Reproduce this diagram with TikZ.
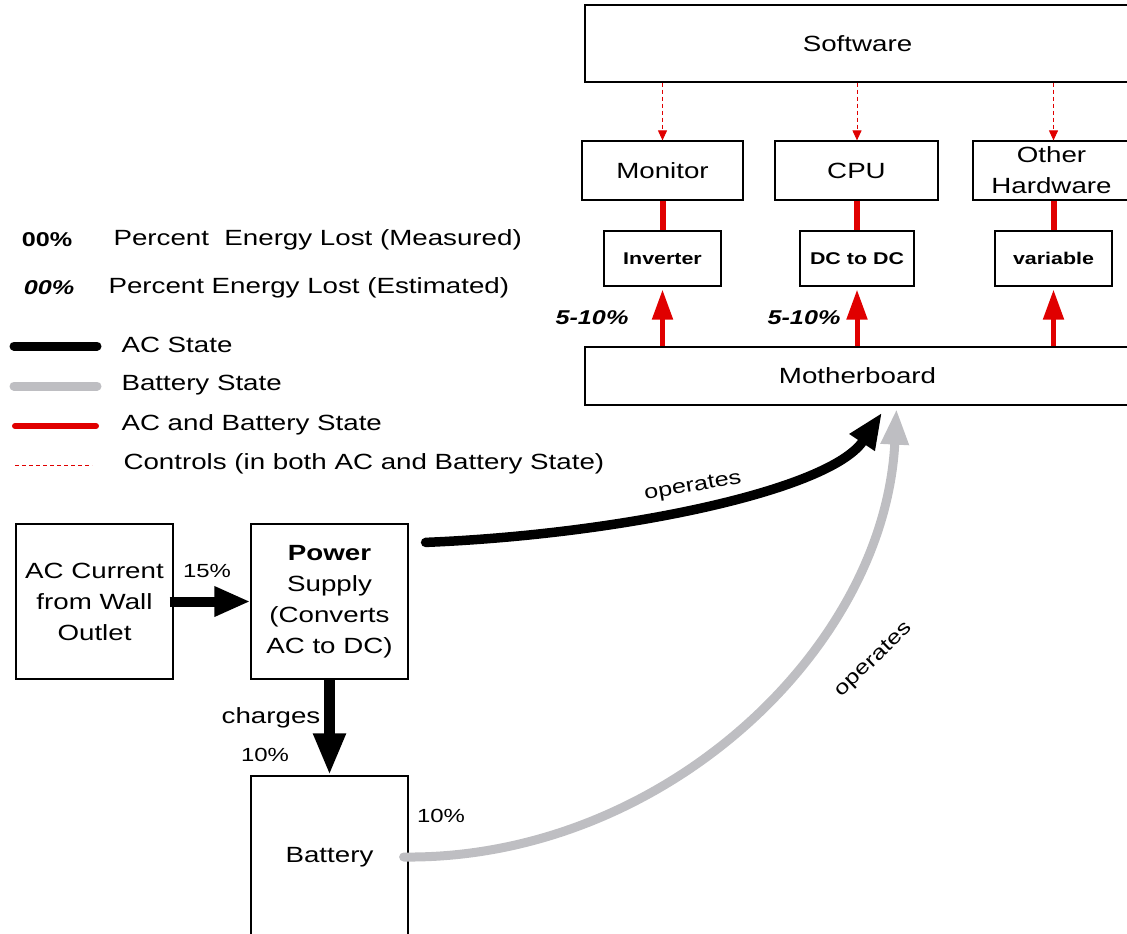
\documentclass[tikz,border=0pt]{standalone}
\usepackage{fontspec}
\setmainfont{Liberation Sans}[FakeStretch=1.26]
\usetikzlibrary{arrows.meta,positioning,calc}
\definecolor{flowred}{HTML}{E00000}
\definecolor{battgray}{HTML}{BEBEC2}
\newcommand\txtbig{\fontsize{22}{31}\selectfont}
\newcommand\txtmid{\fontsize{19}{24}\selectfont}
\newcommand\txtsmall{\fontsize{17}{22}\selectfont}

\begin{document}
\begin{tikzpicture}[
  x=1pt,y=-1pt,
  box/.style={draw,line width=1.2pt,align=center,inner sep=0pt,font=\txtbig},
  smallbox/.style={draw,line width=1.2pt,align=center,inner sep=0pt,font=\txtsmall\bfseries},
  acarr/.style={line width=10pt,-{Triangle[length=36pt,width=28pt]}},
  acline/.style={line width=9pt,line cap=round},
  battline/.style={line width=9pt,line cap=round,color=battgray},
  redline/.style={line width=6pt,color=flowred},
  redarr/.style={line width=5pt,color=flowred,-{Triangle[length=30pt,width=20pt]}},
  ctrlarr/.style={line width=1pt,color=flowred,dash pattern=on 4pt off 3pt,-{Triangle[length=10pt,width=9pt]}},
  ctrlline/.style={line width=1pt,color=flowred,dash pattern=on 4pt off 3pt},
  pct/.style={font=\txtmid},
  lbl/.style={font=\txtbig,anchor=west}
]
\useasboundingbox (0,0) rectangle (1127,934);

\node[box,minimum width=545,minimum height=77] (software) at (857.5,43.5) {Software};
\node[box,minimum width=161,minimum height=59] (monitor) at (662.5,170.5) {Monitor};
\node[box,minimum width=163,minimum height=59] (cpu) at (856.5,170.5) {CPU};
\node[box,minimum width=157,minimum height=59] (other) at (1051.5,170.5) {Other\\Hardware};
\node[smallbox,minimum width=117,minimum height=55] (inverter) at (662.5,258.5) {Inverter};
\node[smallbox,minimum width=114,minimum height=55] (dcdc) at (857,258.5) {DC to DC};
\node[smallbox,minimum width=117,minimum height=55] (variable) at (1053.5,258.5) {variable};
\node[box,minimum width=545,minimum height=58] (motherboard) at (857.5,376) {Motherboard};

\draw[ctrlarr] (software.south -| inverter) -- (monitor.north -| inverter);
\draw[ctrlarr] (software.south -| dcdc) -- (cpu.north -| dcdc);
\draw[ctrlarr] (software.south -| variable) -- (other.north -| variable);
\draw[redline] (monitor.south -| inverter) -- (inverter.north);
\draw[redline] (cpu.south -| dcdc) -- (dcdc.north);
\draw[redline] (other.south -| variable) -- (variable.north);
\draw[redarr] (motherboard.north -| inverter) -- ([yshift=-3pt]inverter.south);
\draw[redarr] (motherboard.north -| dcdc) -- ([yshift=-3pt]dcdc.south);
\draw[redarr] (motherboard.north -| variable) -- ([yshift=-3pt]variable.south);
\node[font=\fontsize{20}{24}\selectfont\bfseries\itshape] (lossinv) at (592,318) {5-10\%};
\node[font=\fontsize{20}{24}\selectfont\bfseries\itshape] (lossdc) at (804,318) {5-10\%};

\node[font=\fontsize{20}{24}\selectfont\bfseries] (keymeas) at (47,240) {00\%};
\node[lbl] (keymeastxt) at (110,240) {Percent~ Energy Lost (Measured)};
\node[font=\fontsize{20}{24}\selectfont\bfseries\itshape] (keyest) at (49,288) {00\%};
\node[lbl] (keyesttxt) at (105,288) {Percent Energy Lost (Estimated)};
\coordinate (keyacA) at (14,346);
\coordinate (keyacB) at (97,346);
\draw[acline] (keyacA) -- (keyacB);
\node[lbl] (keyactxt) at (118,345) {AC State};
\coordinate (keybtA) at (14,386);
\coordinate (keybtB) at (97,386);
\draw[battline] (keybtA) -- (keybtB);
\node[lbl] (keybttxt) at (118,385) {Battery State};
\coordinate (keyrdA) at (15,426);
\coordinate (keyrdB) at (96,426);
\draw[redline,line cap=round] (keyrdA) -- (keyrdB);
\node[lbl] (keyrdtxt) at (118,425) {AC and Battery State};
\coordinate (keyctA) at (15,465);
\coordinate (keyctB) at (92,465);
\draw[ctrlline] (keyctA) -- (keyctB);
\node[lbl] (keycttxt) at (120,464) {Controls (in both AC and Battery State)};

\node[box,minimum width=157,minimum height=155] (wall) at (94.5,601.5) {AC Current\\from Wall\\Outlet};
\node[box,minimum width=157,minimum height=155] (psu) at (329.5,601.5) {\textbf{Power}\\Supply\\(Converts\\AC to DC)};
\node[box,minimum width=157,minimum height=162] (battery) at (329.5,857) {Battery};

\draw[acarr] ([xshift=-4pt]wall.east) -- (psu.west);
\node[pct] (losswall) at (207,571) {15\%};
\draw[acarr,line width=11pt,-{Triangle[length=42pt,width=30pt]}] (psu.south) -- (battery.north);
\node[font=\txtbig] (chg) at (271,718) {charges};
\node[pct] (losspsu) at (265,755) {10\%};
\node[pct] (lossbatt) at (441,816) {10\%};

\draw[line width=9.5pt,line cap=round,-{Triangle[length=36pt,width=28pt]}]
  ([shift={(17,19)}]psu.north east) .. controls +(195,-8) and +(-52,78) .. ([shift={(24.5,7)}]motherboard.south);
\node[rotate=10,font=\fontsize{20}{24}\selectfont] (opac) at (693,487) {operates};
\draw[battline,-{Triangle[length=36pt,width=26pt]}]
  ([xshift=-5pt]battery.east) .. controls +(257,3) and +(-12,242) .. ([shift={(39,3)}]motherboard.south);
\node[rotate=44,font=\fontsize{20}{24}\selectfont] (opbatt) at (874,660) {operates};
\end{tikzpicture}
\end{document}
